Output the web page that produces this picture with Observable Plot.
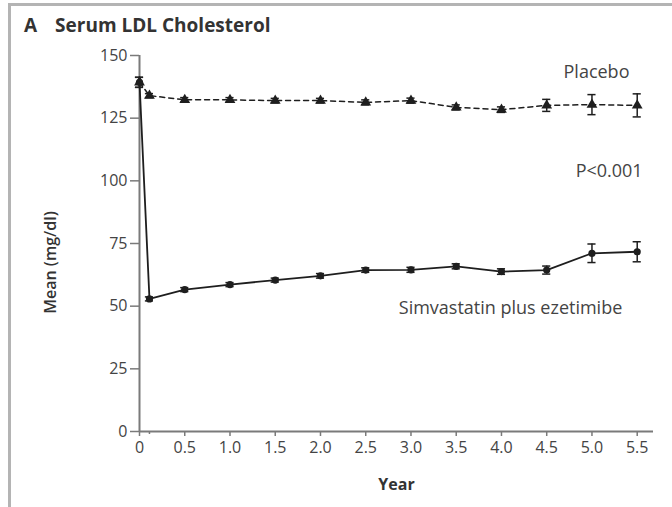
<!DOCTYPE html>
<html>
<head>
<meta charset="utf-8">
<script src="https://cdn.jsdelivr.net/npm/d3@7"></script>
<script src="https://cdn.jsdelivr.net/npm/@observablehq/plot@0.6"></script>
<style>
  html, body { margin: 0; padding: 0; background: #fff; }
  #fig { position: relative; width: 672px; height: 507px; overflow: hidden; font-family: "Open Sans", sans-serif; }
  #fig .frame-top { position: absolute; left: 8px; right: 0; top: 3px; border-top: 3px solid #b4b4b4; }
  #fig .frame-left { position: absolute; left: 8px; top: 3px; bottom: 0; border-left: 3px solid #b4b4b4; }
  #fig .title { position: absolute; left: 24px; top: 14px; font-size: 19px; font-weight: 700; color: #333; white-space: nowrap; line-height: 1.2; }
  #fig .title .panel { margin-right: 18px; }
  #fig svg { position: absolute; left: 0; top: 0; }
</style>
</head>
<body>
<div id="fig">
  <div class="frame-top"></div>
  <div class="frame-left"></div>
  <div class="title"><span class="panel">A</span>Serum LDL Cholesterol</div>
</div>
<script>
// Visit times (years since randomization)
const years = [0, 0.11, 0.5, 1.0, 1.5, 2.0, 2.5, 3.0, 3.5, 4.0, 4.5, 5.0, 5.5];

// Mean serum LDL cholesterol (mg/dl) and standard error by group
const placeboMean = [139.3, 134.0, 132.3, 132.3, 132.0, 132.0, 131.3, 132.0, 129.3, 128.4, 130.1, 130.4, 130.1];
const placeboSE   = [2.0, 0.8, 0.9, 0.9, 0.9, 0.9, 1.0, 1.0, 1.0, 1.1, 2.4, 4.0, 4.6];
const comboMean   = [139.3, 52.9, 56.6, 58.6, 60.4, 62.1, 64.4, 64.5, 65.9, 63.8, 64.4, 71.1, 71.7];
const comboSE     = [2.0, 0.8, 0.8, 0.8, 0.8, 0.9, 0.9, 1.0, 1.0, 1.1, 1.6, 3.7, 4.0];

// Axis ticks and labels
const yTicks = [0, 25, 50, 75, 100, 125, 150];
const xTicks = [0, 0.5, 1.0, 1.5, 2.0, 2.5, 3.0, 3.5, 4.0, 4.5, 5.0, 5.5];
const xTickLabels = ["0", "0.5", "1.0", "1.5", "2.0", "2.5", "3.0", "3.5", "4.0", "4.5", "5.0", "5.5"];

const placebo = years.map((year, i) => ({year, mean: placeboMean[i], se: placeboSE[i]}));
const combo = years.map((year, i) => ({year, mean: comboMean[i], se: comboSE[i]}));

const ink = "#1e1e1e";
const axisColor = "#7a7a7a";
const capHalf = 0.045;

// Error bars with small caps
function errorBars(rows) {
  return [
    Plot.ruleX(rows, {x: "year", y1: d => d.mean - d.se, y2: d => d.mean + d.se, stroke: ink, strokeWidth: 1.5}),
    Plot.ruleY(rows, {y: d => d.mean + d.se, x1: d => d.year - capHalf, x2: d => d.year + capHalf, stroke: ink, strokeWidth: 1.5}),
    Plot.ruleY(rows, {y: d => d.mean - d.se, x1: d => d.year - capHalf, x2: d => d.year + capHalf, stroke: ink, strokeWidth: 1.5})
  ];
}

const chart = Plot.plot({
  width: 672,
  height: 507,
  marginLeft: 139,
  marginRight: 19,
  marginTop: 55,
  marginBottom: 76,
  style: {fontFamily: "'Open Sans', sans-serif", color: "#444", background: "transparent"},
  x: {domain: [0, 5.68]},
  y: {domain: [0, 150]},
  marks: [
    // axes
    Plot.axisY({ticks: yTicks, tickSize: 9, tickPadding: 3, fontSize: 16, letterSpacing: 0.5, label: null, stroke: axisColor, strokeWidth: 1.5}),
    Plot.axisX({ticks: xTicks, tickFormat: d => xTickLabels[xTicks.indexOf(d)], tickSize: 5, tickPadding: 5,
                fontSize: 16, letterSpacing: 0.8, label: null, stroke: axisColor, strokeWidth: 1.5}),
    Plot.axisX({ticks: [years[1]], tickFormat: () => "", tickSize: 3, label: null, stroke: axisColor, strokeWidth: 1.5}),
    Plot.ruleX([0], {y1: 0, y2: 150, stroke: axisColor, strokeWidth: 2}),
    Plot.ruleY([0], {stroke: axisColor, strokeWidth: 2}),

    // axis titles
    Plot.text(["Mean (mg/dl)"], {frameAnchor: "left", textAnchor: "middle", lineAnchor: "middle", dx: -89, dy: 19, rotate: -90,
                                 fontSize: 16, fontWeight: 600, fill: "#333"}),
    Plot.text(["Year"], {frameAnchor: "bottom", lineAnchor: "middle", dy: 53, fontSize: 16, fontWeight: 700, fill: "#333"}),

    // series
    Plot.line(placebo, {x: "year", y: "mean", stroke: ink, strokeWidth: 1.5, strokeDasharray: "5,4"}),
    Plot.line(combo, {x: "year", y: "mean", stroke: ink, strokeWidth: 1.8}),
    ...errorBars(placebo),
    ...errorBars(combo),
    Plot.dot(placebo, {x: "year", y: "mean", symbol: "triangle", r: 4, fill: ink}),
    Plot.dot(combo, {x: "year", y: "mean", symbol: "circle", r: 3.6, fill: ink}),

    // annotations
    Plot.text(["Placebo"], {x: 5.05, y: 143.2, fontSize: 18, fill: "#444", letterSpacing: 1}),
    Plot.text(["P<0.001"], {x: 5.19, y: 104, fontSize: 18, fill: "#444", letterSpacing: 1}),
    Plot.text(["Simvastatin plus ezetimibe"], {x: 4.10, y: 49, fontSize: 18, fill: "#444", letterSpacing: 1.2})
  ]
});

document.getElementById("fig").appendChild(chart);
</script>
</body>
</html>
